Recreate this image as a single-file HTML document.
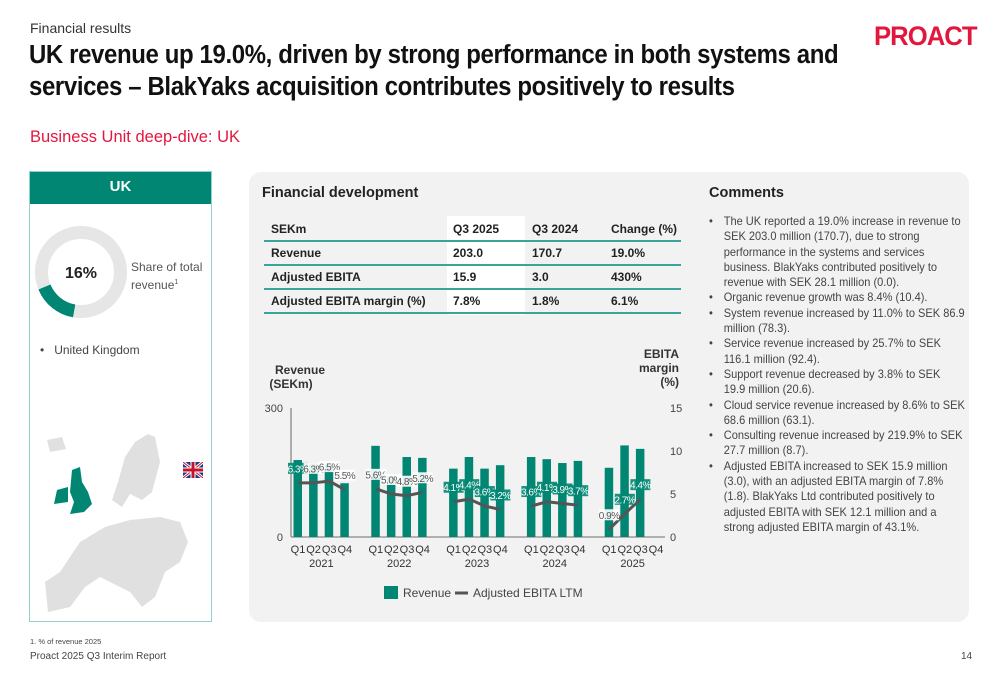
<!DOCTYPE html>
<html><head><meta charset="utf-8">
<style>
*{margin:0;padding:0;box-sizing:border-box}
body{width:1000px;height:685px;background:#fff;font-family:"Liberation Sans",sans-serif;color:#222;position:relative;overflow:hidden}
.abs{position:absolute}
.t{white-space:nowrap}
.cm{position:absolute;left:709px;font-size:12px;color:#444;line-height:15.3px;white-space:nowrap;transform:scaleX(0.92);transform-origin:left top}
.cm div{padding-left:16px;position:relative}
.cm div.b::before{content:"•";position:absolute;left:0}
table{border-collapse:collapse}
</style></head><body>
<div class="abs t" style="left:30px;top:20px;font-size:14px;color:#333">Financial results</div>
<div class="abs" style="left:29px;top:39px;font-size:25.5px;font-weight:bold;line-height:32px;color:#111;letter-spacing:-0.4px;white-space:nowrap;transform:scaleX(0.94);transform-origin:left top">UK revenue up 19.0%, driven by strong performance in both systems and<br>services – BlakYaks acquisition contributes positively to results</div>
<div class="abs t" style="left:874px;top:21px;font-size:27px;font-weight:900;color:#e3173e;letter-spacing:-1px;transform:scaleX(0.95);transform-origin:left">PROACT</div>
<div class="abs t" style="left:30px;top:128px;font-size:16.5px;color:#e3173e">Business Unit deep-dive: UK</div>

<!-- Left panel -->
<div class="abs" style="left:29px;top:171px;width:183px;height:451px;border:1.5px solid #8fd3cb">
  <div style="background:#008672;color:#fff;height:32px;text-align:center;font-weight:bold;font-size:15px;line-height:30px">UK</div>
  <svg class="abs" style="left:0;top:47px" width="110" height="110">
    <circle cx="51" cy="53" r="39.5" fill="none" stroke="#e6e6e6" stroke-width="13"/>
    <circle cx="51" cy="53" r="39.5" fill="none" stroke="#008672" stroke-width="13" stroke-dasharray="39.7 300" transform="rotate(100 51 53)"/>
    <text x="51" y="59" text-anchor="middle" font-size="16" font-weight="bold" fill="#222" font-family="Liberation Sans">16%</text>
  </svg>
  <div class="abs" style="left:101px;top:87px;font-size:12px;color:#555;line-height:16px">Share of total<br>revenue<sup style="font-size:7px">1</sup></div>
  <div class="abs t" style="left:10px;top:171px;font-size:12px;color:#444">•&nbsp;&nbsp;&nbsp;United Kingdom</div>
  <svg class="abs" style="left:0;top:250px" width="180" height="200">
    <path d="M88 60 L95 35 L105 20 L118 12 L125 15 L130 40 L122 70 L112 78 L100 72 L92 85 L82 78 Z" fill="#e0e0e0"/>
    <path d="M17 18 L32 15 L36 27 L20 30 Z" fill="#e0e0e0"/>
    <path d="M50 120 L75 105 L100 98 L130 95 L150 100 L158 120 L150 140 L135 150 L125 175 L112 185 L100 170 L90 165 L70 155 L55 165 L40 185 L18 190 L15 160 L30 150 L40 135 Z" fill="#e0e0e0"/>
    <path d="M42 48 L50 45 L52 60 L58 70 L62 82 L54 90 L40 92 L44 80 L40 70 Z" fill="#008672"/>
    <path d="M27 68 L38 65 L38 80 L24 82 Z" fill="#008672"/>
  </svg>
  <svg class="abs" style="left:153px;top:290px" width="20" height="16">
    <rect width="20" height="16" fill="#1f3a8a"/>
    <path d="M0 0L20 16M20 0L0 16" stroke="#fff" stroke-width="3"/>
    <path d="M0 0L20 16M20 0L0 16" stroke="#c8102e" stroke-width="1"/>
    <path d="M10 0V16M0 8H20" stroke="#fff" stroke-width="5"/>
    <path d="M10 0V16M0 8H20" stroke="#c8102e" stroke-width="3"/>
  </svg>
</div>

<!-- Main gray panel -->
<div class="abs" style="left:249px;top:172px;width:720px;height:450px;background:#f2f2f2;border-radius:12px"></div>
<div class="abs t" style="left:262px;top:185px;font-size:14.5px;font-weight:bold;color:#222">Financial development</div>
<div class="abs" style="left:447px;top:216px;width:78px;height:99px;background:#fff"></div>
<table class="abs" style="left:264px;top:218px;width:417px;font-size:12px;font-weight:bold;color:#222">
<tr style="height:23px;border-bottom:2px solid #3aa596"><td style="padding-left:7px;width:183px">SEKm</td><td style="padding-left:6px;width:79px">Q3 2025</td><td style="padding-left:6px;width:79px">Q3 2024</td><td style="padding-left:6px">Change (%)</td></tr>
<tr style="height:24px;border-bottom:2px solid #3aa596"><td style="padding-left:7px">Revenue</td><td style="padding-left:6px">203.0</td><td style="padding-left:6px">170.7</td><td style="padding-left:6px">19.0%</td></tr>
<tr style="height:24px;border-bottom:2px solid #3aa596"><td style="padding-left:7px">Adjusted EBITA</td><td style="padding-left:6px">15.9</td><td style="padding-left:6px">3.0</td><td style="padding-left:6px">430%</td></tr>
<tr style="height:24px;border-bottom:2px solid #3aa596"><td style="padding-left:7px">Adjusted EBITA margin (%)</td><td style="padding-left:6px">7.8%</td><td style="padding-left:6px">1.8%</td><td style="padding-left:6px">6.1%</td></tr>
</table>

<svg class="abs" style="left:0;top:0" width="1000" height="685" id="chart"></svg>

<div class="abs t" style="left:709px;top:185px;font-size:14.5px;font-weight:bold;color:#222">Comments</div>
<div class="cm" style="top:214px">
<div class="b">The UK reported a 19.0% increase in revenue to</div>
<div>SEK 203.0 million (170.7), due to strong</div>
<div>performance in the systems and services</div>
<div>business. BlakYaks contributed positively to</div>
<div>revenue with SEK 28.1 million (0.0).</div>
<div class="b">Organic revenue growth was 8.4% (10.4).</div>
<div class="b">System revenue increased by 11.0% to SEK 86.9</div>
<div>million (78.3).</div>
<div class="b">Service revenue increased by 25.7% to SEK</div>
<div>116.1 million (92.4).</div>
<div class="b">Support revenue decreased by 3.8% to SEK</div>
<div>19.9 million (20.6).</div>
<div class="b">Cloud service revenue increased by 8.6% to SEK</div>
<div>68.6 million (63.1).</div>
<div class="b">Consulting revenue increased by 219.9% to SEK</div>
<div>27.7 million (8.7).</div>
<div class="b">Adjusted EBITA increased to SEK 15.9 million</div>
<div>(3.0), with an adjusted EBITA margin of 7.8%</div>
<div>(1.8). BlakYaks Ltd contributed positively to</div>
<div>adjusted EBITA with SEK 12.1 million and a</div>
<div>strong adjusted EBITA margin of 43.1%.</div>
</div>

<div class="abs t" style="left:30px;top:637px;font-size:7.5px;color:#444">1. % of revenue 2025</div>
<div class="abs t" style="left:30px;top:651px;font-size:10px;color:#444">Proact 2025 Q3 Interim Report</div>
<div class="abs t" style="left:961px;top:651px;font-size:10px;color:#444">14</div>

<script>
const years = ["2021","2022","2023","2024","2025"];
const quarters = ["Q1","Q2","Q3","Q4"];
const revenue = [[179,171,168,125],[212,142,186,184],[159,186,159,167],[186,181,172,177],[161,213,205,null]];
const margin = [[6.3,6.3,6.5,5.5],[5.6,5.0,4.8,5.2],[4.1,4.4,3.6,3.2],[3.6,4.1,3.9,3.7],[0.9,2.7,4.4,null]];
const leftTicks = [0,300];
const rightTicks = [0,5,10,15];

const svg = document.getElementById('chart');
const NS = "http://www.w3.org/2000/svg";
const y0 = 537, yTop = 408;
const yL = v => y0 - (v/300)*(y0-yTop);
const yR = v => y0 - (v/15)*(y0-yTop);
const xBar = (g,q) => 294 + g*77.8 + q*15.6;
function mk(tag, attrs, text){
  const e = document.createElementNS(NS, tag);
  for (const k in attrs) e.setAttribute(k, attrs[k]);
  if (text !== undefined) e.textContent = text;
  svg.appendChild(e);
  return e;
}
let e;
e = mk('text',{x:300,y:374,'text-anchor':'middle','font-size':12,'font-weight':'bold',fill:'#333','font-family':'Liberation Sans'},'Revenue');
 
e = mk('text',{x:291,y:388,'text-anchor':'middle','font-size':12,'font-weight':'bold',fill:'#333','font-family':'Liberation Sans'},'(SEKm)');
 
['EBITA','margin','(%)'].forEach((s,i)=>{
  e = mk('text',{x:679,y:358+i*14,'text-anchor':'end','font-size':12,'font-weight':'bold',fill:'#333','font-family':'Liberation Sans'},s);
   
});
leftTicks.forEach(v=>{
  e = mk('text',{x:283,y:yL(v)+4,'text-anchor':'end','font-size':11,fill:'#444','font-family':'Liberation Sans'},String(v));
   
});
rightTicks.forEach(v=>{
  e = mk('text',{x:670,y:yR(v)+4,'font-size':11,fill:'#444','font-family':'Liberation Sans'},String(v));
   
});
e = mk('line',{x1:291,y1:yTop,x2:291,y2:y0,stroke:'#888','stroke-width':1.3});
 
e = mk('line',{x1:291,y1:y0,x2:665,y2:y0,stroke:'#888','stroke-width':1.3});
 

years.forEach((yr,g)=>{
  revenue[g].forEach((v,q)=>{
    if (v===null) return;
    e = mk('rect',{x:xBar(g,q)-0.5,y:yL(v),width:8.5,height:y0-yL(v),fill:'#008672'});
     
  });
  quarters.forEach((qq,q)=>{
    e = mk('text',{x:xBar(g,q)+4,y:553,'text-anchor':'middle','font-size':11,fill:'#333','font-family':'Liberation Sans'},qq);
     
  });
  e = mk('text',{x:xBar(g,1.5)+4,y:567,'text-anchor':'middle','font-size':11,fill:'#333','font-family':'Liberation Sans'},yr);
   
  const pts = margin[g].map((m,q)=>m===null?null:[xBar(g,q)+4,yR(m)]).filter(p=>p);
  e = mk('polyline',{points:pts.map(p=>p.join(',')).join(' '),fill:'none',stroke:'#555','stroke-width':3,'stroke-linejoin':'round'});
   
  margin[g].forEach((m,q)=>{
    if (m===null) return;
    const x = xBar(g,q)+4, y = yR(m)-14;
    const onBar = !(g===0&&q>0) && !(g===1) && !(g===4&&q===0);
    e = mk('rect',{x:x-10,y:y-6,width:20,height:11,fill:onBar?'#008672':'#fff',opacity:0.9});
     
    e = mk('text',{x:x,y:y+3.5,'text-anchor':'middle','font-size':10,fill:onBar?'#fff':'#555','font-family':'Liberation Sans','letter-spacing':'-0.5'},m.toFixed(1)+'%');
     
  });
});
e = mk('rect',{x:384,y:586,width:14,height:13,fill:'#008672'});
 
e = mk('text',{x:403,y:597,'font-size':12,fill:'#444','font-family':'Liberation Sans'},'Revenue');
 
e = mk('line',{x1:455,y1:593,x2:468,y2:593,stroke:'#555','stroke-width':3});
 
e = mk('text',{x:473,y:597,'font-size':12,fill:'#444','font-family':'Liberation Sans'},'Adjusted EBITA LTM');
 
</script>
</body></html>
